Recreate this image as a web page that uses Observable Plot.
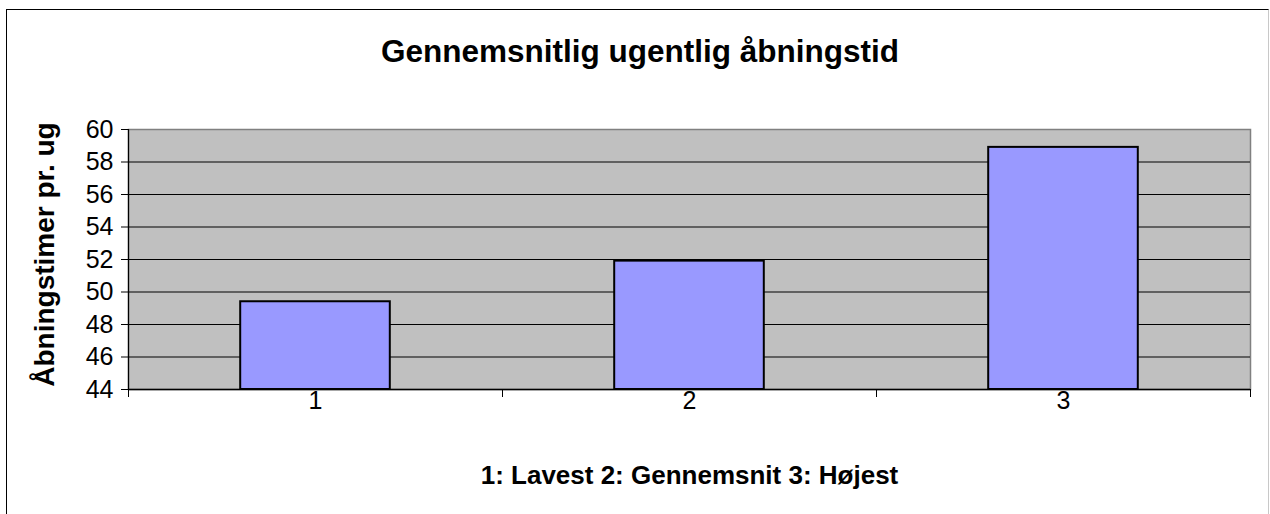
<!DOCTYPE html>
<html>
<head>
<meta charset="utf-8">
<script src="https://cdn.jsdelivr.net/npm/d3@7"></script>
<script src="https://cdn.jsdelivr.net/npm/@observablehq/plot@0.6"></script>
<style>
  html, body { margin: 0; padding: 0; background: #fff; }
  #wrap { position: relative; width: 1270px; height: 514px; overflow: hidden; font-family: "Liberation Sans", Arial, sans-serif; }
  #frame { position: absolute; left: 6px; top: 9px; width: 1263px; height: 600px; border: 1px solid #000; border-right-color: #c8c8c8; box-sizing: border-box; }
  #title { position: absolute; left: 5px; top: 33px; width: 1270px; text-align: center; font-size: 31.5px; font-weight: bold; line-height: 36px; color: #000; }
  #chart { position: absolute; left: 0; top: 90px; }
</style>
</head>
<body>
<div id="wrap">
  <div id="frame"></div>
  <div id="title">Gennemsnitlig ugentlig åbningstid</div>
  <div id="chart"></div>
</div>
<script>
const categories = [1, 2, 3];
const values = [49.4, 51.9, 58.9];
const yTicks = [44, 46, 48, 50, 52, 54, 56, 58, 60];
const xBoundaries = [0.5, 1.5, 2.5, 3.5];
const yLabel = "Åbningstimer pr. ug";
const xLabel = "1: Lavest 2: Gennemsnit 3: Højest";

const data = categories.map((c, i) => ({cat: c, value: values[i]}));
const halfWidth = 0.2;

const plot = Plot.plot({
  width: 1270,
  height: 424,
  marginLeft: 128,
  marginRight: 20,
  marginTop: 39,
  marginBottom: 125,
  style: {fontFamily: "'Liberation Sans', Arial, sans-serif", fontSize: "24px", color: "#000", background: "transparent"},
  x: {type: "linear", domain: [0.5, 3.5]},
  y: {domain: [44, 60]},
  marks: [
    Plot.frame({fill: "#c0c0c0", stroke: "#808080", strokeWidth: 1.5}),
    Plot.ruleY(yTicks.slice(1, -1), {stroke: "#000", strokeWidth: 1.2}),
    Plot.rectY(data, {x1: d => d.cat - halfWidth, x2: d => d.cat + halfWidth, y1: yTicks[0], y2: "value", fill: "#9999ff", stroke: "#000", strokeWidth: 2}),
    Plot.ruleY([yTicks[0]], {stroke: "#000", strokeWidth: 1.5}),
    Plot.ruleX([xBoundaries[0]], {stroke: "#000", strokeWidth: 1.2}),
    Plot.axisY({ticks: yTicks, tickSize: 7, tickPadding: 8, tickFormat: d => String(d), label: null, fontSize: 25, stroke: "#000"}),
    Plot.axisX({ticks: xBoundaries, tickSize: 8, tickFormat: () => "", label: null, stroke: "#000"}),
    Plot.axisX({ticks: categories, tickSize: 0, tickPadding: 2, tickFormat: d => String(d), label: null, fontSize: 25}),
    Plot.text([yLabel], {frameAnchor: "left", rotate: -90, dx: -83, dy: -5, textAnchor: "middle", lineAnchor: "middle", fontWeight: "bold", fontSize: 28, fill: "#000"}),
    Plot.text([xLabel], {frameAnchor: "bottom", dy: 86, textAnchor: "middle", lineAnchor: "middle", fontWeight: "bold", fontSize: 26, fill: "#000"})
  ]
});
document.getElementById("chart").appendChild(plot);
</script>
</body>
</html>
